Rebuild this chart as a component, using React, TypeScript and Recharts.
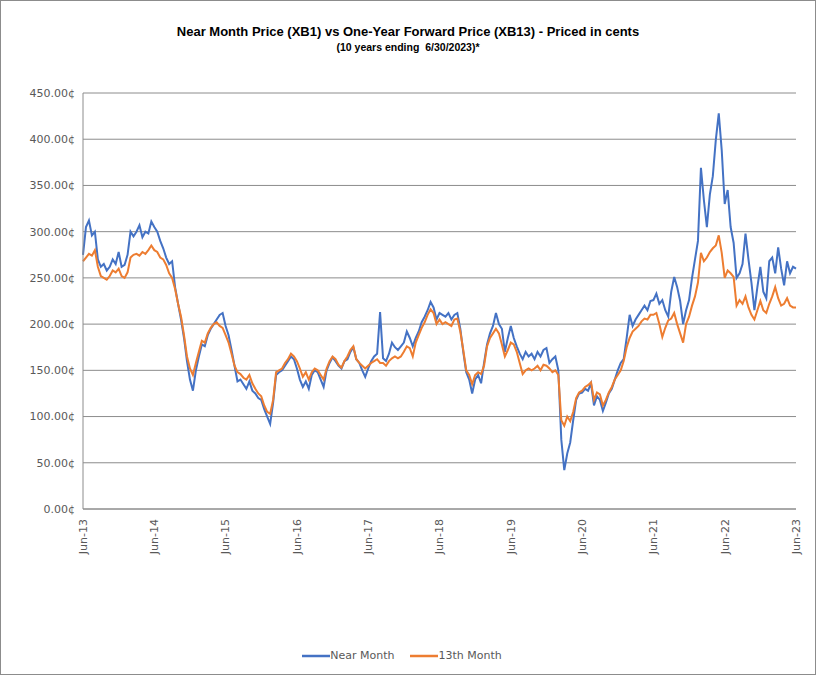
import React from 'react';
import { LineChart, Line, XAxis, YAxis, CartesianGrid, Legend } from 'recharts';

// half-monthly readings, Jun 2013 .. Jun 2023 (241 points)
const nearMonth = [
  275, 305, 312, 296, 300, 270, 262, 265, 258, 262, 270, 265, 278, 262, 264, 275, 300, 295, 300, 307, 294, 300, 298, 311, 305,
  300, 290, 282, 272, 265, 268, 240, 222, 205, 185, 160, 140, 128, 150, 165, 178, 176, 188, 195, 200, 205, 210, 212, 198,
  188, 172, 155, 138, 140, 135, 130, 138, 128, 125, 120, 118, 108, 100, 92, 115, 145, 148, 150, 155, 160, 165, 162, 152,
  140, 132, 138, 130, 145, 150, 148, 140, 132, 150, 158, 164, 160, 155, 152, 160, 162, 170, 175, 162, 158, 150, 143, 152,
  160, 165, 168, 213, 163, 160, 168, 180, 175, 172, 176, 180, 192, 185, 176, 185, 192, 202, 208, 215, 224, 218, 205, 212,
  210, 208, 212, 205, 210, 212, 195, 170, 148, 140, 125, 140, 145, 136, 158, 178, 190, 198, 212, 200, 195, 170, 185, 198,
  185, 176, 168, 162, 170, 165, 168, 162, 170, 165, 172, 174, 158, 162, 165, 150, 75, 42, 60, 72, 96, 118, 125, 126,
  130, 128, 136, 112, 122, 118, 106, 115, 125, 130, 140, 150, 158, 162, 185, 210, 198, 205, 210, 215, 220, 215, 225, 226,
  233, 222, 226, 215, 208, 235, 251, 240, 225, 200, 215, 226, 250, 270, 290, 369, 334, 305, 340, 360, 399, 428, 388, 330,
  345, 305, 288, 250, 255, 265, 298, 270, 245, 215, 240, 262, 235, 228, 268, 272, 255, 283, 260, 242, 268, 255, 262, 260,
];

const thirteenthMonth = [
  268, 272, 276, 274, 280, 262, 252, 250, 248, 252, 258, 256, 260, 252, 250, 256, 272, 275, 276, 274, 278, 276, 280, 285, 280,
  278, 272, 270, 264, 255, 250, 238, 222, 208, 188, 165, 152, 145, 158, 170, 182, 180, 190, 196, 200, 202, 198, 196, 188,
  180, 168, 155, 148, 146, 142, 140, 145, 136, 130, 125, 122, 112, 105, 103, 118, 148, 150, 152, 158, 162, 168, 165, 160,
  152, 143, 148, 140, 148, 152, 150, 145, 140, 152, 160, 165, 162, 156, 153, 160, 165, 172, 176, 162, 158, 155, 152, 155,
  158, 160, 162, 158, 158, 155, 160, 163, 165, 163, 165, 170, 176, 174, 165, 180, 188, 196, 202, 210, 216, 212, 200, 205,
  200, 202, 200, 198, 205, 206, 192, 172, 150, 145, 135, 145, 148, 146, 155, 176, 185, 190, 195, 190, 178, 165, 172, 180,
  178, 170, 158, 146, 150, 152, 150, 152, 155, 150, 156, 155, 152, 148, 150, 145, 96, 90, 100, 95, 105, 120, 126, 128,
  132, 134, 137, 118, 126, 124, 112, 118, 126, 132, 140, 145, 150, 160, 175, 185, 192, 195, 198, 203, 206, 205, 210, 210,
  212, 200, 186, 196, 204, 206, 212, 200, 190, 180, 200, 208, 220, 230, 245, 277, 268, 272, 278, 282, 285, 296, 277, 250,
  258, 255, 251, 220, 226, 222, 230, 218, 210, 205, 215, 225, 215, 212, 222, 230, 240, 228, 220, 222, 228, 220, 218, 218,
];

const tickLabels = ['Jun-13', 'Jun-14', 'Jun-15', 'Jun-16', 'Jun-17', 'Jun-18', 'Jun-19', 'Jun-20', 'Jun-21', 'Jun-22', 'Jun-23'];
const yTicks = [0, 50, 100, 150, 200, 250, 300, 350, 400, 450];

const data = nearMonth.map((v, i) => ({ i, near: v, m13: thirteenthMonth[i] }));
const xTicks = tickLabels.map((_, k) => k * 24);

const BLUE = '#4472C4';
const ORANGE = '#ED7D31';
const FONT = '"DejaVu Sans", Verdana, sans-serif';
const TITLE_FONT = '"Liberation Sans", Arial, sans-serif';

function RotatedTick(props: any) {
  const { x, y, payload } = props;
  return (
    <g transform={`translate(${x},${y})`}>
      <text transform="rotate(-90)" x={-2} dy="0.35em" textAnchor="end" fill="#595959" fontSize={11} fontFamily={FONT}>
        {tickLabels[Math.round(payload.value / 24)]}
      </text>
    </g>
  );
}

function LegendContent() {
  const items = [
    { name: 'Near Month', color: BLUE },
    { name: '13th Month', color: ORANGE },
  ];
  return (
    <div style={{ display: 'flex', justifyContent: 'center', gap: 16, fontFamily: FONT, fontSize: 11, color: '#595959' }}>
      {items.map((it) => (
        <div key={it.name} style={{ display: 'flex', alignItems: 'center' }}>
          <svg width={28} height={10}>
            <line x1={0} y1={5} x2={28} y2={5} stroke={it.color} strokeWidth={2.5} />
          </svg>
          <span>{it.name}</span>
        </div>
      ))}
    </div>
  );
}

export default function App() {
  return (
    <div style={{ position: 'absolute', left: 0, top: 0, width: 816, height: 675, boxSizing: 'border-box', border: '1px solid #8c8c8c', background: '#fff' }}>
      <div style={{ position: 'absolute', top: 23, width: '100%', textAlign: 'center', fontFamily: TITLE_FONT, fontWeight: 'bold', fontSize: 13, color: '#000' }}>
        Near Month Price (XB1) vs One-Year Forward Price (XB13) - Priced in cents
      </div>
      <div style={{ position: 'absolute', top: 40, width: '100%', textAlign: 'center', fontFamily: TITLE_FONT, fontWeight: 'bold', fontSize: 10.5, color: '#000', whiteSpace: 'pre' }}>
        {'(10 years ending  6/30/2023)*'}
      </div>
      <LineChart width={814} height={673} data={data} margin={{ top: 92, right: 19, left: 7, bottom: 92 }}>
        <CartesianGrid vertical={false} stroke="#8c8c8c" strokeWidth={1} />
        <XAxis
          dataKey="i"
          type="number"
          domain={[0, 240]}
          ticks={xTicks}
          interval={0}
          tick={<RotatedTick />}
          tickLine={false}
          axisLine={{ stroke: '#8c8c8c' }}
          height={60}
        />
        <YAxis
          domain={[0, 450]}
          ticks={yTicks}
          interval={0}
          tickFormatter={(v: number) => v.toFixed(2) + '\u00a2'}
          tick={{ fill: '#595959', fontSize: 11, fontFamily: FONT }}
          tickLine={false}
          axisLine={{ stroke: '#8c8c8c' }}
          width={75}
        />
        <Legend verticalAlign="bottom" content={<LegendContent />} wrapperStyle={{ bottom: 12 }} />
        <Line type="linear" dataKey="near" name="Near Month" stroke={BLUE} strokeWidth={2} dot={false} isAnimationActive={false} />
        <Line type="linear" dataKey="m13" name="13th Month" stroke={ORANGE} strokeWidth={2} dot={false} isAnimationActive={false} />
      </LineChart>
    </div>
  );
}
